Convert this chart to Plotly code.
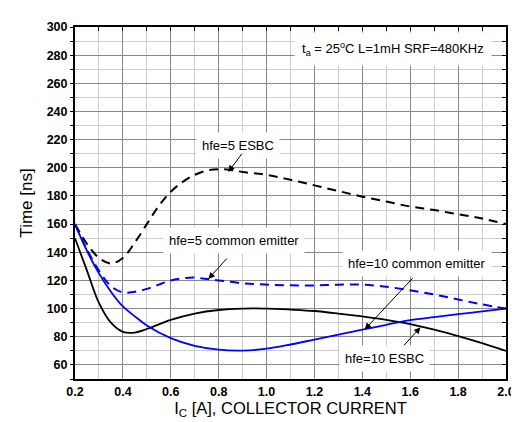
import plotly.graph_objects as go

# ---- data ----
x_black_solid = [0.2, 0.25, 0.3, 0.35, 0.4, 0.45, 0.5, 0.6, 0.7, 0.8, 0.9, 1.0, 1.1, 1.2, 1.3, 1.4, 1.5, 1.6, 1.7, 1.8, 1.9, 2.0]
y_black_solid = [150, 127, 104, 90, 83.5, 83, 85.5, 92, 96.5, 99, 100, 100, 99.3, 98.3, 96.5, 94.4, 92, 89, 85, 80.5, 75.5, 70]

x_blue_solid = [0.2, 0.25, 0.3, 0.35, 0.4, 0.45, 0.5, 0.6, 0.7, 0.8, 0.9, 1.0, 1.1, 1.2, 1.3, 1.4, 1.5, 1.6, 1.7, 1.8, 1.9, 2.0]
y_blue_solid = [160, 141, 125, 112, 101.5, 94.5, 88, 79, 73.5, 70.8, 70.2, 71.5, 74.5, 78, 81.5, 85, 88.5, 91.8, 94, 96, 98, 100]

x_blue_dash = [0.2, 0.25, 0.3, 0.35, 0.4, 0.45, 0.5, 0.55, 0.6, 0.65, 0.7, 0.75, 0.8, 0.9, 1.0, 1.1, 1.2, 1.3, 1.4, 1.5, 1.6, 1.7, 1.8, 1.9, 2.0]
y_blue_dash = [160, 142, 127, 116, 111.5, 112, 114, 117, 120, 121.5, 122, 121, 120, 118, 117, 116.5, 116.5, 117, 117, 115.5, 113, 110, 106.5, 103, 100]

x_black_dash = [0.2, 0.25, 0.3, 0.35, 0.4, 0.45, 0.5, 0.55, 0.6, 0.65, 0.7, 0.75, 0.8, 0.85, 0.9, 1.0, 1.1, 1.2, 1.3, 1.4, 1.5, 1.6, 1.7, 1.8, 1.9, 2.0]
y_black_dash = [160, 146, 136, 132, 136, 147, 160, 173, 183, 190, 195, 198, 199, 198.5, 197, 195, 191.5, 187.5, 183.5, 179.5, 176, 172.5, 170, 167, 164, 160]

x_ticks = [0.2, 0.4, 0.6, 0.8, 1.0, 1.2, 1.4, 1.6, 1.8, 2.0]
x_tick_labels = ["0.2", "0.4", "0.6", "0.8", "1.0", "1.2", "1.4", "1.6", "1.8", "2.0"]
y_ticks = [60, 80, 100, 120, 140, 160, 180, 200, 220, 240, 260, 280, 300]
y_tick_labels = [str(v) for v in y_ticks]

FONT = "Liberation Sans, Arial, sans-serif"
MAJOR = "#888888"
MINOR = "#cccccc"

fig = go.Figure()
# black dashed drawn on (x, y2) and blue dashed on (x2, y) so that the mirrored inner tick axes render
fig.add_trace(go.Scatter(x=x_black_dash, y=y_black_dash, mode="lines", xaxis="x", yaxis="y2",
                         line=dict(color="black", width=2, dash="9px,6px", shape="spline")))
fig.add_trace(go.Scatter(x=x_blue_dash, y=y_blue_dash, mode="lines", xaxis="x2", yaxis="y",
                         line=dict(color="#0000ff", width=2, dash="9px,6px", shape="spline")))
fig.add_trace(go.Scatter(x=x_black_solid, y=y_black_solid, mode="lines",
                         line=dict(color="black", width=1.8, shape="spline")))
fig.add_trace(go.Scatter(x=x_blue_solid, y=y_blue_solid, mode="lines",
                         line=dict(color="#0000ff", width=1.8, shape="spline")))

XR = [0.2, 2.0]
YR = [50, 300]

fig.update_layout(
    width=519, height=422,
    margin=dict(l=67, r=14, t=13, b=51),
    paper_bgcolor="white", plot_bgcolor="white",
    showlegend=False,
    font=dict(family=FONT, color="black"),
    xaxis=dict(
        range=XR, tickvals=x_ticks, ticktext=x_tick_labels,
        tickfont=dict(size=12.5, family=FONT, weight="bold"),
        showgrid=True, gridcolor=MAJOR, gridwidth=1,
        minor=dict(dtick=0.1, tick0=0.2, showgrid=True, gridcolor=MINOR, gridwidth=1, ticks=""),
        ticks="", showline=True, linecolor="black", linewidth=2, mirror=True,
        zeroline=False,
        title=dict(text="I<sub>C</sub> [A], COLLECTOR CURRENT", font=dict(size=16.5, family=FONT), standoff=4),
    ),
    yaxis=dict(
        range=YR, tickvals=y_ticks, ticktext=y_tick_labels,
        tickfont=dict(size=12.5, family=FONT, weight="bold"),
        showgrid=True, gridcolor=MAJOR, gridwidth=1,
        minor=dict(dtick=10, tick0=50, showgrid=True, gridcolor=MINOR, gridwidth=1, ticks="outside", ticklen=3, tickcolor="black"),
        ticks="outside", ticklen=3, tickcolor="black",
        showline=True, linecolor="black", linewidth=2, mirror=True,
        zeroline=False,
        title=dict(text="Time [ns]", font=dict(size=17, family=FONT), standoff=10),
    ),
    xaxis2=dict(range=XR, overlaying="x", side="top", anchor="y", showticklabels=False, showgrid=False, zeroline=False,
                tickvals=[0.2 + 0.1 * i for i in range(19)], ticks="inside", ticklen=4, tickcolor="black",
                showline=False),
    yaxis2=dict(range=YR, overlaying="y", side="right", anchor="x", showticklabels=False, showgrid=False, zeroline=False,
                tickvals=list(range(50, 301, 10)), ticks="inside", ticklen=4, tickcolor="black",
                showline=False),
)

ann_font = dict(size=13, family=FONT, color="black")
labels = [
    ("hfe=5 ESBC", 0.881, 216),
    ("hfe=5 common emitter", 0.865, 148.3),
    ("hfe=10 common emitter", 1.63, 132.3),
    ("hfe=10 ESBC", 1.493, 64.6),
]
for txt, xx, yy in labels:
    fig.add_annotation(x=xx, y=yy, text=txt, showarrow=False, font=ann_font, bgcolor="white", borderpad=5)

fig.add_annotation(x=1.527, y=284.3, text="t<sub>a</sub> = 25<sup>o</sup>C L=1mH SRF=480KHz", showarrow=False,
                   font=ann_font, bgcolor="white", borderpad=7)

arrows = [
    (0.84, 197, 0.902, 211.1),
    (0.757, 121.1, 0.84, 136.7),
    (1.41, 85.1, 1.616, 122.7),
    (1.643, 86.7, 1.568, 72.8),
]
for xt, yt, xs, ys in arrows:
    fig.add_annotation(x=xt, y=yt, ax=xs, ay=ys, axref="x", ayref="y", text="", showarrow=True,
                       arrowhead=2, arrowsize=1.3, arrowwidth=1, arrowcolor="black")

fig.write_html("out.html")
